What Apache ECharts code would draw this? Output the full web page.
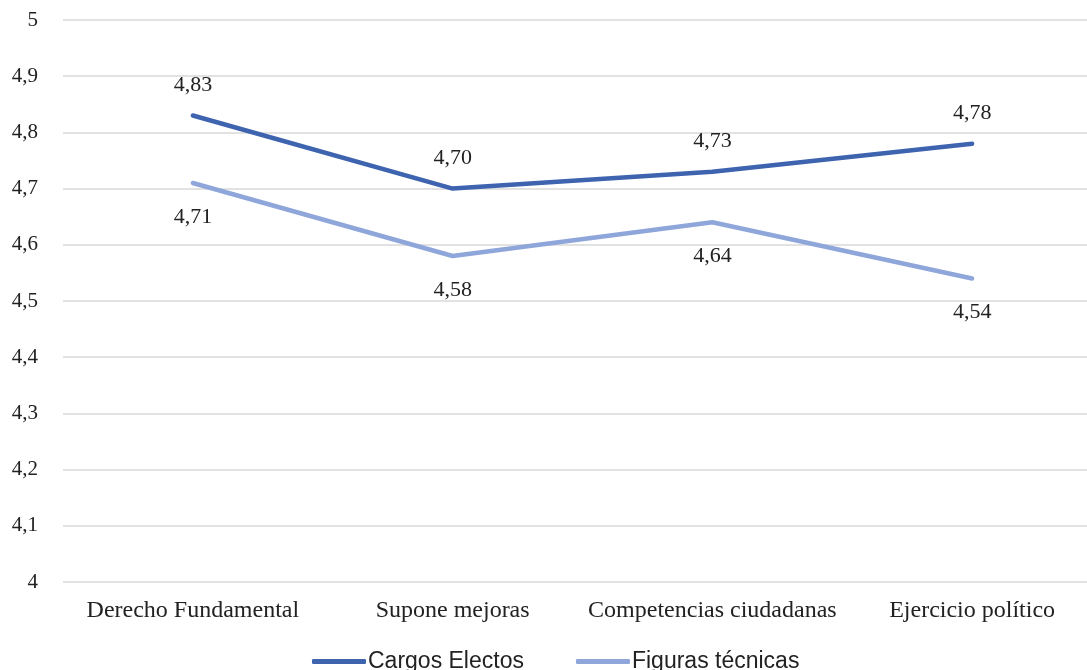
<!DOCTYPE html>
<html><head><meta charset="utf-8">
<script src="https://cdn.jsdelivr.net/npm/echarts@6/dist/echarts.min.js"></script>
<style>html,body{margin:0;padding:0;background:#fff;overflow:hidden;width:1087px;height:670px}#c{width:1110px;height:670px}</style>
</head><body><div id="c"></div>
<script>
const categories = ['Derecho Fundamental', 'Supone mejoras', 'Competencias ciudadanas', 'Ejercicio político'];
const cargosElectos = [4.83, 4.70, 4.73, 4.78];
const figurasTecnicas = [4.71, 4.58, 4.64, 4.54];
const seriesNames = ['Cargos Electos', 'Figuras técnicas'];

const fmt = v => v.toFixed(2).replace('.', ',');
const serif = '"Liberation Serif", "Times New Roman", serif';
const chart = echarts.init(document.getElementById('c'));
chart.setOption({
  animation: false,
  grid: { left: 63, top: 20, right: 8, height: 562 },
  legend: {
    top: 645, left: 307,
    itemWidth: 54, itemHeight: 5, itemGap: 52,
    icon: 'roundRect',
    textStyle: { fontFamily: '"Liberation Sans", Arial, sans-serif', fontSize: 23, color: '#222', padding: [0,0,0,-3] },
    data: seriesNames
  },
  xAxis: {
    type: 'category', data: categories,
    axisLine: { show: false }, axisTick: { show: false },
    axisLabel: { fontFamily: serif, fontSize: 24, color: '#222', margin: 17, interval: 0 }
  },
  yAxis: {
    type: 'value', min: 4, max: 5, interval: 0.1,
    axisLine: { show: false }, axisTick: { show: false },
    splitLine: { lineStyle: { color: '#d9d9d9', width: 1.5 } },
    axisLabel: { fontFamily: serif, fontSize: 21, color: '#222', margin: 25,
      formatter: v => { const r = Math.round(v * 10) / 10; return String(r).replace('.', ','); } }
  },
  series: [
    { name: seriesNames[0], type: 'line', data: cargosElectos, symbol: 'circle', symbolSize: 0.1, showSymbol: true,
      lineStyle: { color: '#3E63AF', width: 4.5, cap: 'round' }, itemStyle: { color: '#3E63AF' },
      label: { show: true, position: 'top', distance: 19, formatter: p => fmt(p.value), fontFamily: serif, fontSize: 22, color: '#222' } },
    { name: seriesNames[1], type: 'line', data: figurasTecnicas, symbol: 'circle', symbolSize: 0.1, showSymbol: true,
      lineStyle: { color: '#8EA6DA', width: 4.5, cap: 'round' }, itemStyle: { color: '#8EA6DA' },
      label: { show: true, position: 'bottom', distance: 23, formatter: p => fmt(p.value), fontFamily: serif, fontSize: 22, color: '#222' } }
  ]
});
</script></body></html>
